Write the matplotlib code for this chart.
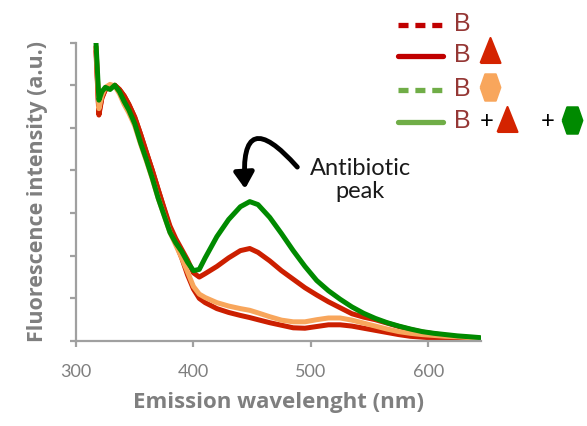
import matplotlib
matplotlib.use("Agg")
import matplotlib.pyplot as plt
from matplotlib.lines import Line2D
import numpy as np

# 数据
wavelength = [317, 319.5, 322, 325, 329, 333, 337, 341, 345, 350, 355, 360, 365,
              370, 375, 380, 385, 390, 395, 400, 405, 410, 420, 430, 440, 448,
              455, 465, 475, 485, 495, 505, 515, 525, 535, 545, 555, 565, 575,
              585, 595, 605, 615, 625, 635, 644]

b_only = [6.8, 5.3, 5.7, 5.9, 5.95, 6.0, 5.9, 5.75, 5.55, 5.25, 4.85, 4.42, 4.0,
          3.55, 3.1, 2.65, 2.3, 1.95, 1.55, 1.22, 1.0, 0.9, 0.76, 0.67, 0.6, 0.55,
          0.5, 0.43, 0.37, 0.31, 0.3, 0.34, 0.38, 0.38, 0.35, 0.3, 0.25, 0.2, 0.15,
          0.11, 0.09, 0.07, 0.06, 0.05, 0.04, 0.03]

b_tri = [6.9, 5.35, 5.7, 5.9, 5.95, 6.0, 5.9, 5.75, 5.55, 5.25, 4.85, 4.42, 4.0,
         3.55, 3.12, 2.7, 2.4, 2.15, 1.9, 1.6, 1.5, 1.58, 1.75, 1.95, 2.12, 2.17,
         2.08, 1.88, 1.65, 1.45, 1.25, 1.08, 0.92, 0.78, 0.64, 0.56, 0.5, 0.42, 0.34,
         0.27, 0.21, 0.17, 0.13, 0.1, 0.08, 0.06]

b_hex = [6.9, 5.45, 5.75, 5.95, 6.02, 5.98, 5.8, 5.55, 5.35, 5.05, 4.62, 4.22, 3.8,
         3.35, 2.95, 2.55, 2.25, 1.95, 1.62, 1.28, 1.1, 1.02, 0.9, 0.82, 0.76, 0.72,
         0.66, 0.57, 0.49, 0.45, 0.45, 0.5, 0.54, 0.54, 0.49, 0.42, 0.35, 0.28, 0.22,
         0.18, 0.15, 0.13, 0.11, 0.1, 0.08, 0.07]

b_tri_hex = [7.0, 5.65, 5.85, 5.95, 5.9, 6.0, 5.85, 5.62, 5.42, 5.1, 4.65, 4.25, 3.82,
             3.35, 2.95, 2.55, 2.3, 2.1, 1.85, 1.65, 1.68, 1.95, 2.45, 2.85, 3.15, 3.27,
             3.2, 2.9, 2.52, 2.12, 1.75, 1.42, 1.18, 0.98, 0.8, 0.65, 0.53, 0.43, 0.35,
             0.28, 0.22, 0.18, 0.15, 0.12, 0.1, 0.08]

x_ticks = [300, 400, 500, 600]

RED = "#cc1f00"
ORANGE = "#f8a65c"
GREEN = "#008a00"
GRAY = "#7f7f7f"
AXIS_GRAY = "#a0a0a0"

plt.rcParams["font.family"] = ["Lato", "DejaVu Sans"]

fig = plt.figure(figsize=(5.87, 4.26), dpi=100)
ax = fig.add_axes([0.1295, 0.1995, 0.8195 - 0.1295, 0.9 - 0.1995])

lw = 3.6
ax.plot(wavelength, b_only, color=RED, lw=lw, solid_capstyle="round")
ax.plot(wavelength, b_tri, color=RED, lw=lw, solid_capstyle="round")
ax.plot(wavelength, b_hex, color=ORANGE, lw=lw, solid_capstyle="round")
ax.plot(wavelength, b_tri_hex, color=GREEN, lw=lw, solid_capstyle="round")

ax.set_xlim(300, 645)
ax.set_ylim(0, 7)
ax.set_xticks(x_ticks)
ax.set_yticks(np.arange(0, 8, 1))
ax.set_yticklabels([])
for s in ["top", "right"]:
    ax.spines[s].set_visible(False)
for s in ["left", "bottom"]:
    ax.spines[s].set_color(AXIS_GRAY)
    ax.spines[s].set_linewidth(1.6)
ax.tick_params(axis="both", direction="out", length=4.5, width=1.6,
               color=AXIS_GRAY, labelcolor=GRAY, labelsize=13, pad=12)

label_font = ["Open Sans", "DejaVu Sans"]
ax.set_xlabel("Emission wavelenght (nm)", fontsize=16, fontweight="bold",
              color=GRAY, labelpad=9, family=label_font)
ax.set_ylabel("Fluorescence intensity (a.u.)", fontsize=15.5, fontweight="bold",
              color=GRAY, labelpad=4, family=label_font)

# 注释：抗生素峰
ax.annotate("", xy=(444, 3.57), xytext=(488.5, 4.08),
            arrowprops=dict(arrowstyle="-|>,head_length=0.95,head_width=0.6",
                            connectionstyle="arc3,rad=1.45", lw=3.5, color="black",
                            shrinkA=0, shrinkB=0))
ax.text(360 / 587, 1 - 180 / 426, "Antibiotic\npeak", transform=fig.transFigure,
        ha="center", va="center", fontsize=17, color="#1a1a1a", linespacing=1.15)

# 手工图例
def fx(px):
    return px / 587


def fy(py):
    return 1 - py / 426


LEG_RED = "#c00000"
LEG_GREEN = "#70ad47"
TXT = "#953735"
rows = [(25, LEG_RED, (0, (1.9, 1.3))), (56, LEG_RED, "-"),
        (90, LEG_GREEN, (0, (1.9, 1.3))), (122, LEG_GREEN, "-")]
for py, c, ls in rows:
    fig.add_artist(Line2D([fx(398), fx(443)], [fy(py), fy(py)], color=c, lw=3.8,
                          ls=ls, transform=fig.transFigure, solid_capstyle="round",
                          dash_capstyle="butt"))
    fig.text(fx(454), fy(py - 1), "B", fontsize=18, color=TXT, va="center",
             ha="left", family=["Liberation Sans", "DejaVu Sans"])

hexagon = [(-0.75, 0), (-0.4, 1), (0.4, 1), (0.75, 0), (0.4, -1), (-0.4, -1), (-0.75, 0)]
triangle = [(-0.8, -1), (0.8, -1), (0, 1), (-0.8, -1)]


def marker(px, py, m, c, size):
    fig.add_artist(Line2D([fx(px)], [fy(py)], marker=m, color=c, markersize=size,
                          markeredgewidth=1.5, markeredgecolor=c, ls="none",
                          transform=fig.transFigure))


marker(490, 50, triangle, "#d42300", 18)
marker(490, 87, hexagon, ORANGE, 19)
fig.text(fx(487), fy(121), "+", fontsize=17, color="black", ha="center", va="center")
marker(507, 119, triangle, "#d42300", 18)
fig.text(fx(548), fy(121), "+", fontsize=17, color="black", ha="center", va="center")
marker(572, 120, hexagon, GREEN, 19)

fig.savefig("out.png", dpi=100)
